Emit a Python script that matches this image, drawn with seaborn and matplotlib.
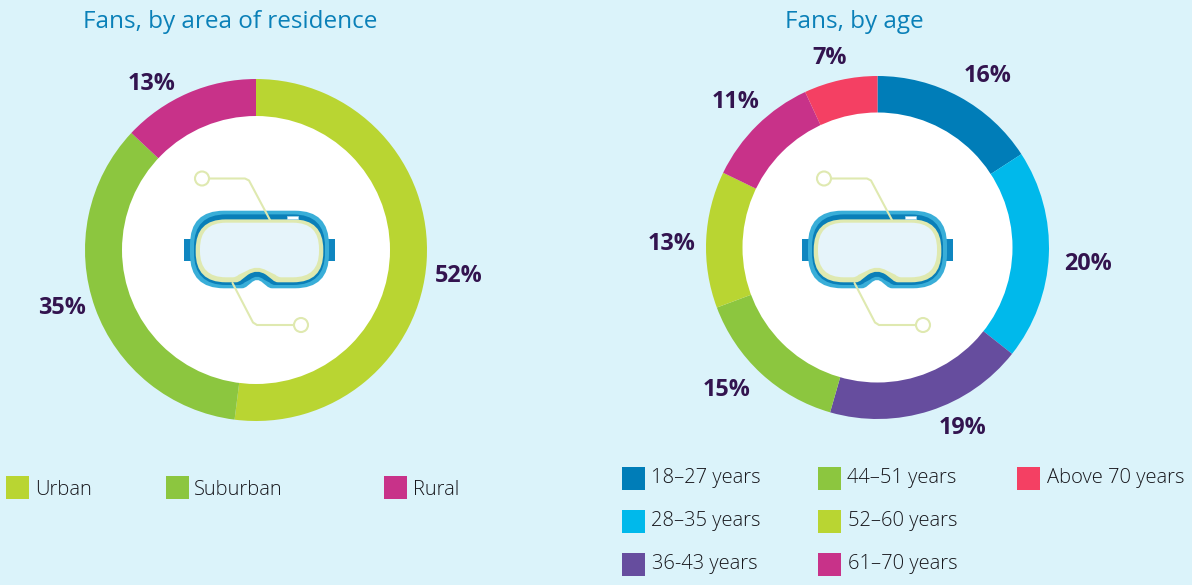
import matplotlib
matplotlib.use("Agg")
import matplotlib.pyplot as plt
import seaborn as sns
from matplotlib.patches import Circle, PathPatch, Rectangle
from matplotlib.path import Path

# data
area_labels = ["Urban", "Suburban", "Rural"]
area_values = [52, 35, 13]
age_labels = ["18–27 years", "28–35 years", "36-43 years", "44–51 years",
              "52–60 years", "61–70 years", "Above 70 years"]
age_values = [16, 20, 19, 15, 13, 11, 7]

area_palette = sns.color_palette(["#b9d532", "#8cc63f", "#c83289"])
age_palette = sns.color_palette(["#007db8", "#00b9eb", "#664d9e", "#8cc63f",
                                 "#b9d532", "#c83289", "#f44063"])

BG = "#dbf3fa"
TITLE_COL = "#0a80b8"
PCT_COL = "#33144f"
TEXT_COL = "#17171c"
PALE = "#dfe9b0"
H = 585

# layout, in pixels of the reference
area_pct_pos = [(459, 275.5), (62, 307.5), (152, 83.5)]
age_pct_pos = [(988, 75.5), (1088, 264.5), (963, 428.5), (727, 390.5),
               (672, 243.5), (736, 102.5), (830, 57.5)]
area_swatches = [(6, 476), (166, 476), (384, 476)]
area_text_x = [35, 194, 413]
age_swatches = [(622, 467), (622, 510), (622, 553), (818, 467),
                (818, 510), (818, 553), (1017, 467)]
age_text_x = [651, 651, 652, 847, 848, 848, 1047]

sns.set_theme(style="white")
plt.rcParams["font.family"] = ["Open Sans", "DejaVu Sans"]

fig = plt.figure(figsize=(11.92, 5.85), dpi=100, facecolor=BG)
ax = fig.add_axes([0, 0, 1, 1])
ax.set_facecolor(BG)


def goggle_path(cx, cy, nx, side, top, bottom, r, ny, nb, nt):
    # outline of the mask, y up, with the nose notch at the bottom
    w = 69.5 - side
    t = 38.8 - top
    b = 38.8 - bottom
    L, C = Path.LINETO, Path.CURVE3
    verts = [
        ((-w + r, t), Path.MOVETO), ((w - r, t), L),
        ((w, t), C), ((w, t - r), C), ((w, -b + r), L), ((w, -b), C), ((w - r, -b), C),
        ((nx + nb + 3, -b), L), ((nx + nb, -b), C), ((nx + nb - 2.5, -b + 2.5), C),
        ((nx + nt, -ny - 3), L), ((nx, -ny + 3), C), ((nx - nt, -ny - 3), C),
        ((nx - nb + 2.5, -b + 2.5), L), ((nx - nb, -b), C), ((nx - nb - 3, -b), C),
        ((-w + r, -b), L), ((-w, -b), C), ((-w, -b + r), C),
        ((-w, t - r), L), ((-w, t), C), ((-w + r, t), C),
    ]
    return Path([(cx + x, cy + y) for (x, y), _ in verts], [c for _, c in verts])


def draw_goggles(cx, cy, body_x, nose):
    # straps
    for x in [body_x - 75.5, body_x + 68.5]:
        ax.add_patch(Rectangle((x, cy - 11), 7, 22, fc="#0f86c0", ec="none", zorder=4))
    layers = [((0, 0, 0), 34, 30.5, 12, 6, "#39aed8"),
              ((4, 3.7, 3.3), 32, 27.2, 15, 7, "#0a7fb8"),
              ((5.7, 8.7, 6), 30, 22.2, 18, 9, PALE),
              ((10, 12, 11), 26, 18.2, 21, 10, "#e6f4fa")]
    for (side, top, bottom), r, ny, nb, nt, col in layers:
        path = goggle_path(body_x, cy, nose, side, top, bottom, r, ny, nb, nt)
        ax.add_patch(PathPatch(path, fc=col, ec="none", zorder=5))
    ax.add_patch(Rectangle((body_x + 27.5, cy + 30.5), 11, 3, fc="white", ec="#9fd4ea", lw=0.5, zorder=6))
    # connector lines run over the mask rim
    ax.plot([cx - 46, cx - 11, cx - 7, cx + 14], [cy + 71, cy + 71, cy + 69, cy + 29.5],
            color=PALE, lw=1.5, zorder=7, solid_capstyle="round")
    ax.plot([cx - 23.5, cx - 3, cx + 1, cx + 38], [cy - 33.5, cy - 73, cy - 75.5, cy - 75.5],
            color=PALE, lw=1.5, zorder=7, solid_capstyle="round")
    for x, y in [(cx - 54, cy + 71), (cx + 45, cy - 75.5)]:
        ax.add_patch(Circle((x, y), 7, fc="white", ec=PALE, lw=1.5, zorder=8))


def draw_donut(values, colors, cx, cy, outer, inner):
    ax.pie(values, colors=colors, center=(cx, H - cy), radius=outer, startangle=90,
           counterclock=False, wedgeprops={"width": outer - inner + 1, "linewidth": 0})
    ax.add_patch(Circle((cx, H - cy), inner, fc="white", ec="none", zorder=2))


def draw_legend(labels, colors, swatches, text_x, base):
    for lab, col, (x, y), tx in zip(labels, colors, swatches, text_x):
        ax.add_patch(Rectangle((x, H - y - 23), 23, 23, fc=col, ec="none"))
        ax.text(tx, H - y - base, lab, fontsize=14.5, color=TEXT_COL, va="baseline", ha="left", fontweight="light")


draw_donut(area_values, area_palette, 256, 250, 171, 134)
draw_donut(age_values, age_palette, 877.5, 247.5, 171.5, 135)
draw_goggles(256, H - 249.5, 259.5, -2.5)
draw_goggles(878, H - 249.5, 877.5, -0.5)

for val, (x, y) in zip(area_values, area_pct_pos):
    ax.text(x, H - y, f"{val}%", fontsize=16.8, fontweight="bold", color=PCT_COL, ha="center", va="center")
for val, (x, y) in zip(age_values, age_pct_pos):
    ax.text(x, H - y, f"{val}%", fontsize=16.8, fontweight="bold", color=PCT_COL, ha="center", va="center")

ax.text(230, H - 22, "Fans, by area of residence", fontsize=17.5, color=TITLE_COL, ha="center", va="center")
ax.text(854, H - 22, "Fans, by age", fontsize=17.5, color=TITLE_COL, ha="center", va="center")

draw_legend(area_labels, area_palette, area_swatches, area_text_x, 19)
draw_legend(age_labels, age_palette, age_swatches, age_text_x, 16)

ax.set_xlim(0, 1192)
ax.set_ylim(0, H)
ax.set_aspect("equal")
ax.axis("off")

fig.savefig("out.png", dpi=100, facecolor=BG)
